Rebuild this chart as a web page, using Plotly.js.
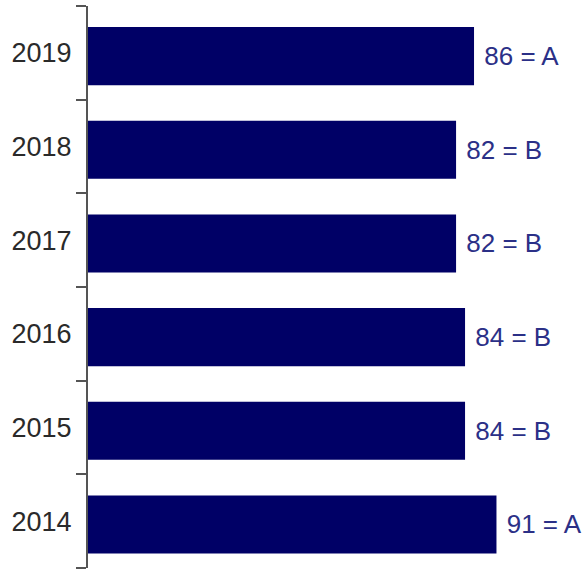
<!DOCTYPE html>
<html>
<head>
<meta charset="utf-8">
<script src="https://cdn.plot.ly/plotly-3.0.1.min.js"></script>
<style>html,body{margin:0;padding:0;background:#fff;}#chart{width:584px;height:571px;}</style>
</head>
<body>
<div id="chart"></div>
<script>
var years = ["2014", "2015", "2016", "2017", "2018", "2019"];
var scores = [91, 84, 84, 82, 82, 86];
var grades = ["A", "B", "B", "B", "B", "A"];

var labels = scores.map(function (v, i) { return "\u00a0" + v + " = " + grades[i]; });

var trace = {
  type: "bar",
  orientation: "h",
  y: years,
  x: scores,
  width: 0.62,
  offset: -0.345,
  text: labels,
  textposition: "outside",
  cliponaxis: false,
  constraintext: "none",
  outsidetextfont: { family: "Liberation Sans, Arial, sans-serif", size: 26, color: "#2b3087" },
  marker: { color: "#000066", line: { width: 0 } },
  hoverinfo: "skip"
};

var layout = {
  width: 584, height: 571,
  margin: { l: 88, r: 0, t: 6, b: 3, pad: 0 },
  paper_bgcolor: "#ffffff", plot_bgcolor: "#ffffff",
  showlegend: false,
  xaxis: {
    range: [0, 110.5], showgrid: false, zeroline: false, showline: false,
    showticklabels: false, ticks: "", fixedrange: true
  },
  yaxis: {
    type: "category",
    categoryorder: "array", categoryarray: years,
    range: [-0.5, 5.5],
    showline: true, linecolor: "#555555", linewidth: 2,
    ticks: "outside", tickson: "boundaries", ticklen: 10, tickwidth: 2, tickcolor: "#555555",
    showgrid: false, zeroline: false,
    tickfont: { family: "Liberation Sans, Arial, sans-serif", size: 27, color: "#2a2a2a" },
    ticklabelstandoff: 9
  }
};

Plotly.newPlot("chart", [trace], layout, { displayModeBar: false, staticPlot: true });
</script>
</body>
</html>
